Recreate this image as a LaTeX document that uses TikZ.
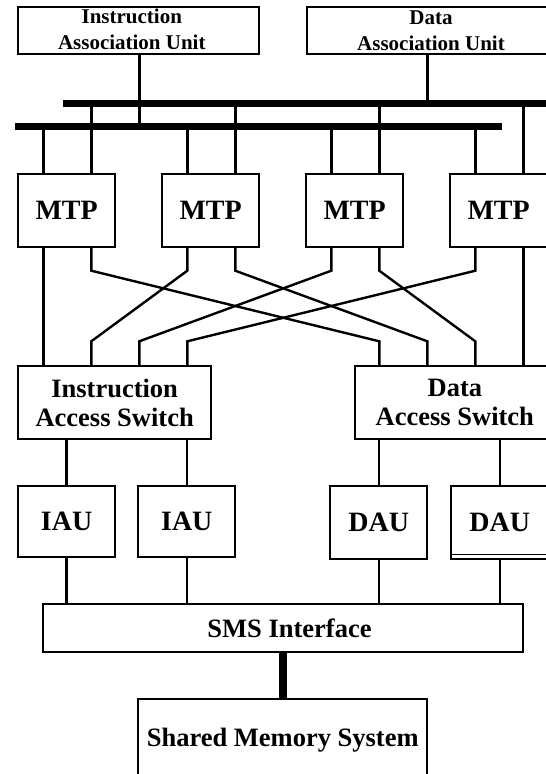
\documentclass[tikz,border=0pt]{standalone}
\usepackage{fontspec}
\setmainfont{Liberation Serif}
\usetikzlibrary{calc}
\begin{document}
\begin{tikzpicture}[x=1pt,y=-1pt,
  box/.style={draw, line width=2.3pt, rectangle, inner sep=0pt, outer sep=0pt, align=center},
  wire/.style={line width=2.4pt},
  bus/.style={line width=7pt},
  bigtxt/.style={font=\fontsize{28}{30}\selectfont\bfseries},
  midtxt/.style={font=\fontsize{26.5}{29.4}\selectfont\bfseries},
  smalltxt/.style={font=\fontsize{21}{26}\selectfont\bfseries},
  lbl/.style={inner sep=0pt, align=center}
]
\path[use as bounding box] (0,0) rectangle (546,774);
\clip (0,0) rectangle (546,774);

% top association units
\node[box, minimum width=241pt, minimum height=47.6pt] (iau0) at (138.8,30.5) {};
\node[lbl, smalltxt] (iau0t) at (131.8,29.4) {Instruction\\Association Unit};
\node[box, smalltxt, minimum width=248pt, minimum height=47.6pt] (dau0) at (431,30.5) {Data\\Association Unit};

% buses
\coordinate (ubL) at (63,103);   \coordinate (ubR) at (560,103);
\coordinate (lbL) at (15,126.5); \coordinate (lbR) at (502.3,126.5);
\draw[bus] (ubL) -- (ubR);
\draw[bus] (lbL) -- (lbR);

\coordinate (xi) at (139.3,0);
\coordinate (xd) at (427.3,0);
\draw[wire] (xi |- iau0.south) -- (xi |- lbL);
\draw[wire] (xd |- dau0.south) -- (xd |- ubL);

% MTPs
\foreach \i/\l in {1/18.3, 2/162.3, 3/306.3, 4/450.3}{
  \node[box, bigtxt, minimum width=96.7pt, minimum height=72.7pt] (mtp\i) at (\l+48.35,210.35) {MTP};
  \coordinate (ma\i) at (\l+25,0);
  \coordinate (mb\i) at (\l+73,0);
  \draw[wire] (ma\i |- lbL) -- (ma\i |- mtp\i.north);
  \draw[wire] (mb\i |- ubL) -- (mb\i |- mtp\i.north);
}

% access switches
\node[box, midtxt, minimum width=192.7pt, minimum height=72.7pt] (ias) at (114.65,402.65) {Instruction\\Access Switch};
\node[box, midtxt, minimum width=200.3pt, minimum height=72.7pt] (das) at (454.85,402.65) {Data\\Access Switch};

\coordinate (si1) at (43.3,0);  \coordinate (si2) at (91.3,0);
\coordinate (si3) at (139.3,0); \coordinate (si4) at (187.3,0);
\coordinate (sd1) at (379.3,0); \coordinate (sd2) at (427.3,0);
\coordinate (sd3) at (475.3,0); \coordinate (sd4) at (523.3,0);
\coordinate (yb1) at (0,270.7);
\coordinate (yb2) at (0,341.3);

\draw[wire] (ma1 |- mtp1.south) -- (si1 |- ias.north);
\draw[wire] (mb1 |- mtp1.south) -- (mb1 |- yb1) -- (sd1 |- yb2) -- (sd1 |- das.north);
\draw[wire] (ma2 |- mtp2.south) -- (ma2 |- yb1) -- (si2 |- yb2) -- (si2 |- ias.north);
\draw[wire] (mb2 |- mtp2.south) -- (mb2 |- yb1) -- (sd2 |- yb2) -- (sd2 |- das.north);
\draw[wire] (ma3 |- mtp3.south) -- (ma3 |- yb1) -- (si3 |- yb2) -- (si3 |- ias.north);
\draw[wire] (mb3 |- mtp3.south) -- (mb3 |- yb1) -- (sd3 |- yb2) -- (sd3 |- das.north);
\draw[wire] (ma4 |- mtp4.south) -- (ma4 |- yb1) -- (si4 |- yb2) -- (si4 |- ias.north);
\draw[wire] (mb4 |- mtp4.south) -- (sd4 |- das.north);

% access units
\node[box, bigtxt, minimum width=96.7pt, minimum height=71.3pt] (iau1) at (66.65,521.35) {IAU};
\node[box, bigtxt, minimum width=97pt, minimum height=71.3pt] (iau2) at (186.8,521.35) {IAU};
\node[box, bigtxt, minimum width=97pt, minimum height=73.6pt] (dau1) at (378.8,522.5) {DAU};
\node[box, bigtxt, minimum width=97pt, minimum height=73.6pt] (dau2) at (499.8,522.5) {DAU};
\draw[line width=0.8pt] ($(dau2.south west)+(0,-4.5)$) -- ($(dau2.south east)+(0,-4.5)$);

\draw[wire] (iau1.north |- ias.south) -- (iau1.north);
\draw[wire] (iau2.north |- ias.south) -- (iau2.north);
\draw[wire] (dau1.north |- das.south) -- (dau1.north);
\draw[wire] (dau2.north |- das.south) -- (dau2.north);

% SMS interface
\node[box, minimum width=480pt, minimum height=47.7pt] (sms) at (283.3,628.15) {};
\node[lbl, midtxt, anchor=base] (smst) at (289.5,637) {SMS Interface};

\draw[wire] (iau1.south) -- (iau1.south |- sms.north);
\draw[wire] (iau2.south) -- (iau2.south |- sms.north);
\draw[wire] (dau1.south) -- (dau1.south |- sms.north);
\draw[wire] (dau2.south) -- (dau2.south |- sms.north);

% shared memory
\node[box, midtxt, text depth=0pt, minimum width=288.9pt, minimum height=76.7pt] (shm) at (282.75,737.65) {Shared Memory System};
\draw[line width=8pt] (shm.north |- sms.south) -- (shm.north);
\end{tikzpicture}
\end{document}
